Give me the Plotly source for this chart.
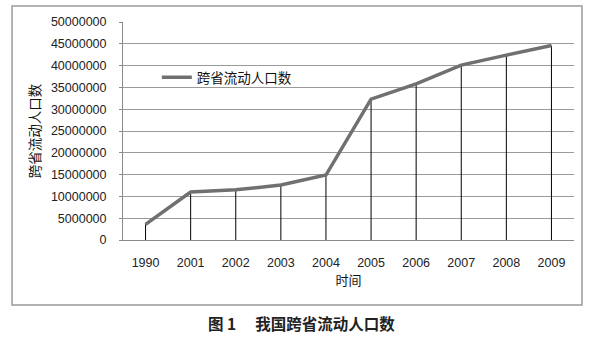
import plotly.graph_objects as go

# 跨省流动人口数（人）
years = ["1990", "2001", "2002", "2003", "2004", "2005", "2006", "2007", "2008", "2009"]
population = [3600000, 11000000, 11500000, 12600000, 14900000,
              32300000, 35800000, 40100000, 42400000, 44600000]
y_ticks = [0, 5000000, 10000000, 15000000, 20000000, 25000000,
           30000000, 35000000, 40000000, 45000000, 50000000]

cjk = "Noto Sans CJK SC"
num_font = "Liberation Sans"

# vertical drop lines from each point down to the category axis
drop_x, drop_y = [], []
for yr, v in zip(years, population):
    drop_x += [yr, yr, None]
    drop_y += [0, v, None]

fig = go.Figure()
fig.add_trace(go.Scatter(
    x=drop_x, y=drop_y, mode="lines",
    line=dict(color="#000000", width=1),
    showlegend=False, hoverinfo="skip",
))
fig.add_trace(go.Scatter(
    x=years, y=population, mode="lines", name="跨省流动人口数",
    line=dict(color="#707070", width=3.5),
))

fig.update_layout(
    width=600, height=338,
    margin=dict(l=123, r=26, t=22, b=98),
    paper_bgcolor="white", plot_bgcolor="white",
    showlegend=True,
    legend=dict(
        x=0.075, y=0.745, xanchor="left", yanchor="middle",
        bgcolor="rgba(0,0,0,0)",
        font=dict(family=cjk, size=13.5, color="#111111"),
    ),
    xaxis=dict(
        type="category", range=[-0.5, 9.5],
        showgrid=False, showline=True, linecolor="#8a8a8a", linewidth=1,
        ticks="", tickfont=dict(family=num_font, size=12.5, color="#222222"),
        ticklabelstandoff=11,
        title=dict(text="时间", font=dict(family=cjk, size=13, color="#111111"),
                   standoff=6),
    ),
    yaxis=dict(
        range=[0, 50000000], tickvals=y_ticks,
        ticktext=[str(v) for v in y_ticks],
        showgrid=True, gridcolor="#9a9a9a", gridwidth=1,
        showline=True, linecolor="#8a8a8a", linewidth=1,
        ticks="outside", ticklen=3, tickcolor="#8a8a8a",
        tickfont=dict(family=num_font, size=12.5, color="#222222"),
        ticklabelstandoff=10,
        zeroline=False,
        title=dict(text="跨省流动人口数", font=dict(family=cjk, size=13.5, color="#111111"),
                   standoff=7),
    ),
    shapes=[dict(
        type="rect", xref="paper", yref="paper",
        x0=-0.246, x1=1.0177, y0=-0.298, y1=1.073,
        line=dict(color="#9a9a9a", width=1.5), fillcolor="rgba(0,0,0,0)",
        layer="below",
    )],
    annotations=[dict(
        text="<b>图 1</b>　 <b>我国跨省流动人口数</b>",
        xref="paper", yref="paper", x=0.395, y=-0.381,
        xanchor="center", yanchor="middle", showarrow=False,
        font=dict(family=cjk, size=15.5, color="#222222"),
    )],
)

fig.write_html("out.html")
